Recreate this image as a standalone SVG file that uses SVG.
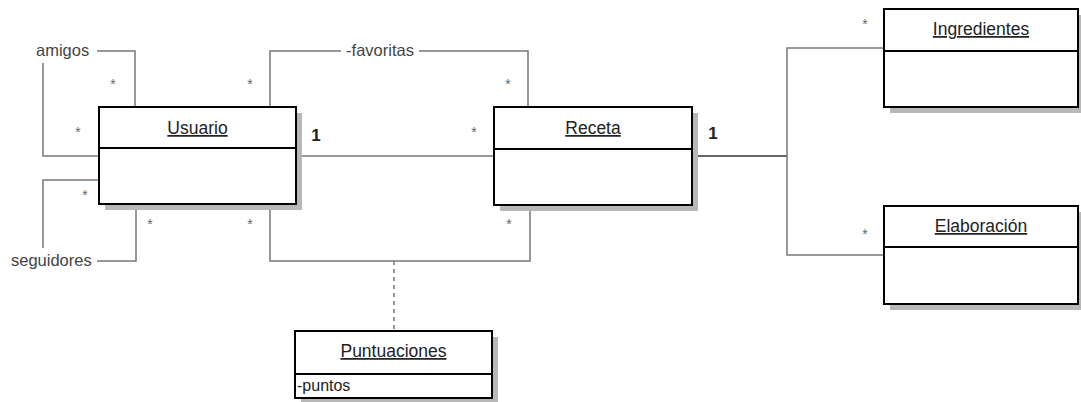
<svg xmlns="http://www.w3.org/2000/svg" width="1081" height="402" viewBox="0 0 1081 402">
<style>
.shadow{fill:#b8b8b8}
.box{fill:#fff;stroke:#000;stroke-width:2}
.div{stroke:#000;stroke-width:2}
.title{font-family:"Liberation Sans",Arial,sans-serif;font-size:17.5px;text-decoration:underline;fill:#222;text-anchor:middle}
.attr{font-family:"Liberation Sans",Arial,sans-serif;font-size:16px;fill:#222}
.ln{fill:none;stroke:#777;stroke-width:1.5}
.dk{fill:none;stroke:#333;stroke-width:1.5}
.dash{fill:none;stroke:#777;stroke-width:1.5;stroke-dasharray:4 4}
.lbl{font-family:"Liberation Sans",Arial,sans-serif;font-size:16.5px;fill:#444}
.star{font-family:"Liberation Sans",Arial,sans-serif;font-size:14px;fill:#666;text-anchor:middle}
.one{font-family:"Liberation Sans",Arial,sans-serif;font-size:17px;font-weight:bold;fill:#222;text-anchor:middle}
</style>
<rect width="1081" height="402" fill="#fff"/>
<g id="connectors">
  <!-- amigos -->
  <path class="ln" d="M97 51 H135 V107"/>
  <path class="ln" d="M43 63 V156 H99"/>
  <text class="lbl" x="36" y="56">amigos</text>
  <!-- seguidores -->
  <path class="ln" d="M43 248 V180 H99"/>
  <path class="ln" d="M97 261 H136 V205"/>
  <text class="lbl" x="11" y="266">seguidores</text>
  <!-- favoritas -->
  <path class="ln" d="M270 107 V51 H341 M419 51 H528 V107"/>
  <text class="lbl" x="380" y="56" text-anchor="middle">-favoritas</text>
  <!-- Usuario - Receta -->
  <path class="ln" d="M296 156 H494"/>
  <!-- Usuario - Receta (Puntuaciones) -->
  <path class="ln" d="M270 205 V261 H530 V205"/>
  <path class="dash" d="M394 261 V331"/>
  <!-- Receta - Ingredientes/Elaboracion -->
  <path class="dk" d="M692 156 H787"/>
  <path class="ln" d="M884 48 H787 V255 H884"/>
  <!-- multiplicities -->
  <text class="star" x="113" y="89">*</text>
  <text class="star" x="78" y="137">*</text>
  <text class="star" x="85" y="200">*</text>
  <text class="star" x="150" y="229">*</text>
  <text class="star" x="250" y="89">*</text>
  <text class="star" x="250" y="229">*</text>
  <text class="star" x="474" y="137">*</text>
  <text class="star" x="508" y="89">*</text>
  <text class="star" x="509" y="229">*</text>
  <text class="star" x="865" y="29">*</text>
  <text class="star" x="865" y="239">*</text>
  <text class="one" x="316" y="141">1</text>
  <text class="one" x="713" y="139">1</text>
</g>
<g id="usuario">
  <rect class="shadow" x="105" y="113" width="197" height="97"/>
  <rect class="box" x="99" y="107" width="197" height="97"/>
  <line class="div" x1="99" y1="148" x2="296" y2="148"/>
  <text class="title" x="197.5" y="134">Usuario</text>
</g>
<g id="receta">
  <rect class="shadow" x="500" y="113" width="198" height="98"/>
  <rect class="box" x="494" y="107" width="198" height="98"/>
  <line class="div" x1="494" y1="149" x2="692" y2="149"/>
  <text class="title" x="593" y="134">Receta</text>
</g>
<g id="ingredientes">
  <rect class="shadow" x="890" y="15" width="196" height="98"/>
  <rect class="box" x="884" y="9" width="194" height="98"/>
  <line class="div" x1="884" y1="51" x2="1078" y2="51"/>
  <text class="title" x="981" y="35">Ingredientes</text>
</g>
<g id="elaboracion">
  <rect class="shadow" x="890" y="212" width="196" height="98"/>
  <rect class="box" x="884" y="206" width="194" height="98"/>
  <line class="div" x1="884" y1="247" x2="1078" y2="247"/>
  <text class="title" x="981" y="232">Elaboración</text>
</g>
<g id="puntuaciones">
  <rect class="shadow" x="301" y="337" width="197" height="67"/>
  <rect class="box" x="295" y="331" width="197" height="67"/>
  <line class="div" x1="295" y1="374" x2="492" y2="374"/>
  <text class="title" x="393.5" y="357">Puntuaciones</text>
  <text class="attr" x="297" y="391">-puntos</text>
</g>
</svg>
